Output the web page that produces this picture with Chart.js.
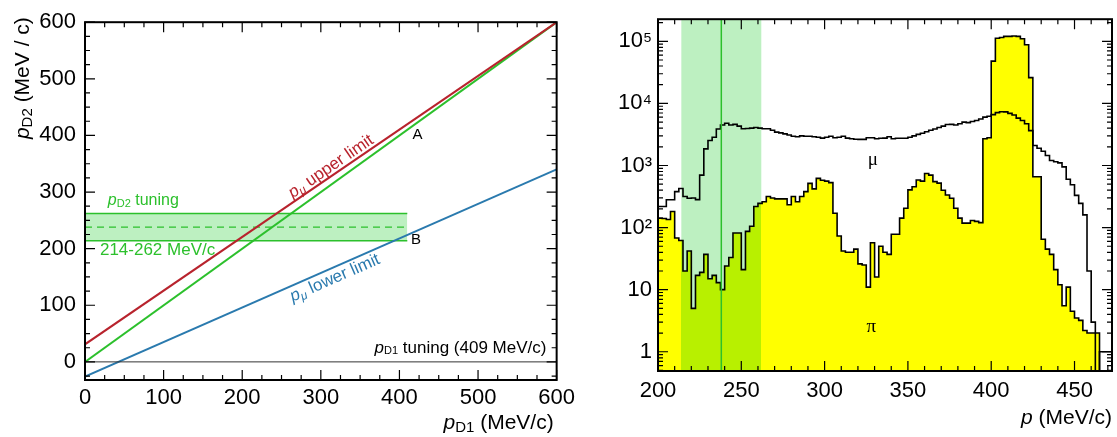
<!DOCTYPE html>
<html lang="en">
<head>
<meta charset="UTF-8">
<title>pD2 vs pD1 and momentum spectra</title>
<script src="https://cdn.jsdelivr.net/npm/chart.js@4.4.1/dist/chart.umd.min.js"></script>
<style>
  html, body { margin: 0; padding: 0; background: #fff; }
  #wrap { position: relative; width: 1117px; height: 437px; }
  #leftChart { position: absolute; left: 0; top: 0; }
  #rightChart { position: absolute; left: 580px; top: 0; }
</style>
</head>
<body>
<div id="wrap">
  <canvas id="leftChart" width="580" height="437"></canvas>
  <canvas id="rightChart" width="537" height="437"></canvas>
</div>
<script>
// ---- left panel: pD2 against pD1 ----
const upperX = [0, 600], upperY = [31, 600];      // p_mu upper limit
const diagX = [0, 600], diagY = [0, 600];         // pD2 = pD1
const lowerX = [0, 600], lowerY = [-26, 340];     // p_mu lower limit
const zeroX = [0, 600], zeroY = [0, 0];           // pD1 tuning line
const bandX = [0, 410];
const bandLow = 214, bandHigh = 262, bandMid = 238;
const leftXTicks = [0, 100, 200, 300, 400, 500, 600];
const leftYTicks = [0, 100, 200, 300, 400, 500, 600];

// ---- right panel: momentum spectra, 2.5 MeV/c bins starting at 200 ----
const binStart = 200, binWidth = 2.5;
const muCounts = [
  219, 219, 280, 280, 380, 427, 316, 297, 300, 282,
  700, 1850, 2530, 2850, 3880, 4480, 4800, 4500, 4600, 4300,
  3900, 3950, 4000, 4100, 4000, 3900, 3900, 3700, 3450, 3350,
  3230, 3100, 2950, 2900, 3000, 2950, 2950, 2900, 2850, 2760,
  2850, 2950, 2800, 2850, 2950, 2760, 2700, 2650, 2630, 2630,
  2800, 2800, 2700, 2750, 2760, 2900, 2700, 2750, 2750, 2750,
  2850, 3000, 3170, 3300, 3500, 3700, 3880, 4100, 4300, 4560,
  4600, 4500, 4700, 4990, 4900, 5100, 5300, 5600, 6000, 6200,
  6600, 7100, 7350, 7300, 6900, 6500, 5800, 5300, 4700, 3650,
  2100, 1900, 1700, 1450, 1200, 1150, 1100, 950, 600, 490,
  330, 245, 160, 20, 3, 0.01, 1, 1, 1
];
const piCounts = [
  142, 140, 135, 182, 68, 62, 20, 42, 5, 17,
  19, 37, 15, 17, 13, 10, 24, 33, 82, 82,
  21, 87, 105, 219, 245, 260, 316, 300, 290, 290,
  290, 233, 316, 260, 316, 380, 515, 420, 620, 580,
  560, 530, 170, 73, 42, 40, 40, 45, 26, 25,
  11, 57, 16, 50, 40, 37, 78, 78, 142, 205,
  405, 455, 585, 560, 745, 700, 550, 520, 400, 335,
  297, 205, 142, 118, 118, 130, 126, 120, 2700, 2800,
  48000, 112000, 115000, 120000, 120000, 122000, 120000, 110000, 88000, 26000,
  660, 660, 65, 45, 37, 21, 12, 5.5, 11, 4.5,
  3.5, 3.2, 2.2, 2, 2, 2, 0.01, 0.01, 0.01
];
const rightXTicks = [200, 250, 300, 350, 400, 450];
const rightYTicks = [1, 10, 100, 1000, 10000, 100000];
const rightYLabels = ['1', '10', '10\u00b2', '10\u00b3', '10\u2074', '10\u2075'];

const FONT = "'Liberation Sans', Arial, sans-serif";
const SERIF = "'Liberation Serif', 'Times New Roman', serif";
const RED = '#b8232d', GREEN = '#2cc02c', BLUE = '#2a7aae';
const BAND = '#bdf0c1', BAND_ON_YELLOW = '#b8f000', YELLOW = '#ffff00';
const TICK_SIZE = 22;

function pts(xs, ys) {
  return xs.map((x, i) => ({ x: x, y: ys[i] }));
}
function histPts(counts) {
  const p = counts.map((c, i) => ({ x: binStart + i * binWidth, y: c }));
  p.push({ x: binStart + counts.length * binWidth, y: counts[counts.length - 1] });
  return p;
}

// text made of runs: italic p, subscripts, plain text
function drawRich(ctx, parts, x, y, align, color) {
  ctx.save();
  ctx.fillStyle = color;
  ctx.textBaseline = 'middle';
  const fonts = parts.map(p => (p.italic ? 'italic ' : '') + p.size + 'px ' + (p.family || FONT));
  let total = 0;
  parts.forEach((p, i) => { ctx.font = fonts[i]; total += ctx.measureText(p.text).width; });
  let cx = align === 'right' ? x - total : align === 'center' ? x - total / 2 : x;
  parts.forEach((p, i) => {
    ctx.font = fonts[i];
    ctx.fillText(p.text, cx, y + (p.dy || 0));
    cx += ctx.measureText(p.text).width;
  });
  ctx.restore();
}

function drawTicksAndFrame(chart, xt, yt) {
  const { ctx, chartArea: a, scales } = chart;
  ctx.save();
  ctx.strokeStyle = '#000';
  ctx.lineWidth = 1.2;
  ctx.beginPath();
  xt.forEach(t => {
    const px = scales.x.getPixelForValue(t.v);
    const len = t.major ? 10 : 5;
    ctx.moveTo(px, a.bottom); ctx.lineTo(px, a.bottom - len);
    ctx.moveTo(px, a.top); ctx.lineTo(px, a.top + len);
  });
  yt.forEach(t => {
    const py = scales.y.getPixelForValue(t.v);
    const len = t.major ? 10 : 5;
    ctx.moveTo(a.left, py); ctx.lineTo(a.left + len, py);
    ctx.moveTo(a.right, py); ctx.lineTo(a.right - len, py);
  });
  ctx.stroke();
  ctx.lineWidth = 2;
  ctx.strokeRect(a.left, a.top, a.right - a.left, a.bottom - a.top);
  ctx.restore();
}

// ---------------- left chart ----------------
const leftMinorX = [], leftMinorY = [];
for (let v = 0; v <= 600; v += 25) leftMinorX.push({ v: v, major: v % 100 === 0 });
for (let v = -25; v <= 600; v += 25) leftMinorY.push({ v: v, major: v % 100 === 0 });

const leftDecor = {
  id: 'leftDecor',
  afterDraw(chart) {
    const { ctx, chartArea: a, scales: { x, y } } = chart;
    drawTicksAndFrame(chart, leftMinorX, leftMinorY);
    const angle = (xs, ys) => Math.atan2(
      y.getPixelForValue(ys[0]) - y.getPixelForValue(ys[1]),
      x.getPixelForValue(xs[1]) - x.getPixelForValue(xs[0]));

    ctx.save();
    ctx.translate(x.getPixelForValue(313), y.getPixelForValue(345));
    ctx.rotate(-angle(upperX, upperY));
    drawRich(ctx, [
      { text: 'p', size: 17, italic: true },
      { text: '\u03bc', size: 12, italic: true, dy: 4 },
      { text: ' upper limit', size: 17 }
    ], 0, 0, 'center', RED);
    ctx.restore();

    ctx.save();
    ctx.translate(x.getPixelForValue(318), y.getPixelForValue(148));
    ctx.rotate(-angle(lowerX, lowerY));
    drawRich(ctx, [
      { text: 'p', size: 17, italic: true },
      { text: '\u03bc', size: 12, italic: true, dy: 4 },
      { text: ' lower limit', size: 17 }
    ], 0, 0, 'center', BLUE);
    ctx.restore();

    drawRich(ctx, [{ text: 'A', size: 15 }], x.getPixelForValue(423), y.getPixelForValue(401), 'center', '#000');
    drawRich(ctx, [{ text: 'B', size: 15 }], x.getPixelForValue(421), y.getPixelForValue(216), 'center', '#000');
    drawRich(ctx, [
      { text: 'p', size: 16, italic: true },
      { text: 'D2', size: 11, dy: 3 },
      { text: ' tuning', size: 16 }
    ], x.getPixelForValue(29), y.getPixelForValue(285), 'left', GREEN);
    drawRich(ctx, [{ text: '214-262 MeV/c', size: 17 }],
      x.getPixelForValue(19), y.getPixelForValue(197), 'left', GREEN);
    drawRich(ctx, [
      { text: 'p', size: 17, italic: true },
      { text: 'D1', size: 11, dy: 3 },
      { text: ' tuning (409 MeV/c)', size: 17 }
    ], x.getPixelForValue(587), y.getPixelForValue(24), 'right', '#000');

    // axis titles
    drawRich(ctx, [
      { text: 'p', size: 21, italic: true },
      { text: 'D1', size: 15, dy: 5 },
      { text: ' (MeV/c)', size: 21 }
    ], a.right - 3, 423, 'right', '#000');
    ctx.save();
    ctx.translate(23, a.top - 5);
    ctx.rotate(-Math.PI / 2);
    drawRich(ctx, [
      { text: 'p', size: 21, italic: true },
      { text: 'D2', size: 15, dy: 5 },
      { text: ' (MeV / c)', size: 21 }
    ], 0, 0, 'right', '#000');
    ctx.restore();
  }
};

const lineDefaults = { pointRadius: 0, tension: 0, fill: false };
const noGrid = { display: false, drawTicks: false };

new Chart(document.getElementById('leftChart'), {
  type: 'line',
  data: {
    datasets: [
      { ...lineDefaults, data: pts(zeroX, zeroY), borderColor: '#333', borderWidth: 1 },
      { ...lineDefaults, data: pts(upperX, upperY), borderColor: RED, borderWidth: 2 },
      { ...lineDefaults, data: pts(diagX, diagY), borderColor: GREEN, borderWidth: 2 },
      { ...lineDefaults, data: pts(lowerX, lowerY), borderColor: BLUE, borderWidth: 2 },
      { ...lineDefaults, data: pts(bandX, [bandMid, bandMid]), borderColor: GREEN, borderWidth: 1.3, borderDash: [7, 5] },
      { ...lineDefaults, data: pts(bandX, [bandLow, bandLow]), borderColor: GREEN, borderWidth: 1.5 },
      { ...lineDefaults, data: pts(bandX, [bandHigh, bandHigh]), borderColor: GREEN, borderWidth: 1.5,
        fill: '-1', backgroundColor: BAND }
    ]
  },
  options: {
    responsive: false,
    animation: false,
    devicePixelRatio: 1,
    layout: { padding: { top: 18, right: 20, left: 0, bottom: 0 } },
    plugins: { legend: { display: false }, tooltip: { enabled: false } },
    scales: {
      x: {
        type: 'linear', min: 0, max: 600,
        afterBuildTicks: s => { s.ticks = leftXTicks.map(v => ({ value: v })); },
        afterFit: s => { s.height = 57; },
        grid: noGrid, border: { display: false },
        ticks: { color: '#000', font: { family: FONT, size: TICK_SIZE }, padding: 5, maxRotation: 0 }
      },
      y: {
        type: 'linear', min: -32, max: 600,
        afterBuildTicks: s => { s.ticks = leftYTicks.map(v => ({ value: v })); },
        afterFit: s => { s.width = 85; },
        grid: noGrid, border: { display: false },
        ticks: { color: '#000', font: { family: FONT, size: TICK_SIZE }, padding: 9 }
      }
    }
  },
  plugins: [leftDecor]
});

// ---------------- right chart ----------------
const rightMinorX = [], rightMinorY = [];
for (let v = 200; v <= 470; v += 10) rightMinorX.push({ v: v, major: v % 50 === 0 });
for (let d = -1; d <= 5; d++) {
  for (let m = 1; m <= 9; m++) rightMinorY.push({ v: m * Math.pow(10, d), major: m === 1 });
}

function piFill(context) {
  const chart = context.chart;
  const { chartArea, scales } = chart;
  if (!chartArea) return YELLOW;
  const x0 = chartArea.left, x1 = chartArea.right;
  const f = v => Math.min(1, Math.max(0, (scales.x.getPixelForValue(v) - x0) / (x1 - x0)));
  const g = chart.ctx.createLinearGradient(x0, 0, x1, 0);
  g.addColorStop(0, YELLOW);
  g.addColorStop(f(bandLow), YELLOW);
  g.addColorStop(f(bandLow), BAND_ON_YELLOW);
  g.addColorStop(f(bandHigh), BAND_ON_YELLOW);
  g.addColorStop(f(bandHigh), YELLOW);
  g.addColorStop(1, YELLOW);
  return g;
}

const rightDecor = {
  id: 'rightDecor',
  beforeDatasetsDraw(chart) {
    const { ctx, chartArea: a, scales: { x } } = chart;
    ctx.save();
    ctx.fillStyle = BAND;
    const l = x.getPixelForValue(bandLow), r = x.getPixelForValue(bandHigh);
    ctx.fillRect(l, a.top, r - l, a.bottom - a.top);
    ctx.restore();
  },
  afterDatasetsDraw(chart) {
    const { ctx, chartArea: a, scales: { x } } = chart;
    ctx.save();
    ctx.strokeStyle = GREEN;
    ctx.lineWidth = 1.5;
    const m = x.getPixelForValue(bandMid);
    ctx.beginPath();
    ctx.moveTo(m, a.top); ctx.lineTo(m, a.bottom);
    ctx.stroke();
    ctx.restore();
  },
  afterDraw(chart) {
    const { ctx, chartArea: a, scales: { x, y } } = chart;
    drawTicksAndFrame(chart, rightMinorX, rightMinorY.filter(t => t.v >= y.min && t.v <= y.max));
    drawRich(ctx, [{ text: '\u03bc', size: 19, family: SERIF }], x.getPixelForValue(329), y.getPixelForValue(1230), 'center', '#000');
    drawRich(ctx, [{ text: '\u03c0', size: 19, family: SERIF }], x.getPixelForValue(328), y.getPixelForValue(2.5), 'center', '#000');
    drawRich(ctx, [
      { text: 'p', size: 21, italic: true },
      { text: ' (MeV/c)', size: 21 }
    ], a.right, 418, 'right', '#000');
  }
};

new Chart(document.getElementById('rightChart'), {
  type: 'line',
  data: {
    datasets: [
      { label: 'mu', data: histPts(muCounts), stepped: 'before', pointRadius: 0,
        borderColor: '#000', borderWidth: 1.6, fill: false },
      { label: 'pi', data: histPts(piCounts), stepped: 'before', pointRadius: 0,
        borderColor: '#000', borderWidth: 1.6, fill: 'start', backgroundColor: piFill }
    ]
  },
  options: {
    responsive: false,
    animation: false,
    devicePixelRatio: 1,
    layout: { padding: { top: 16, right: 5, left: 0, bottom: 0 } },
    plugins: { legend: { display: false }, tooltip: { enabled: false } },
    scales: {
      x: {
        type: 'linear', min: 200, max: 472.5,
        afterBuildTicks: s => { s.ticks = rightXTicks.map(v => ({ value: v })); },
        afterFit: s => { s.height = 66; },
        grid: noGrid, border: { display: false },
        ticks: { color: '#000', font: { family: FONT, size: TICK_SIZE }, padding: 7, maxRotation: 0 }
      },
      y: {
        type: 'logarithmic', min: 0.49, max: 227000,
        afterBuildTicks: s => { s.ticks = rightYTicks.map(v => ({ value: v })); },
        afterFit: s => { s.width = 78; },
        grid: noGrid, border: { display: false },
        ticks: {
          color: '#000', font: { family: FONT, size: TICK_SIZE }, padding: 6,
          callback: v => rightYLabels[rightYTicks.indexOf(v)]
        }
      }
    }
  },
  plugins: [rightDecor]
});
</script>
</body>
</html>
